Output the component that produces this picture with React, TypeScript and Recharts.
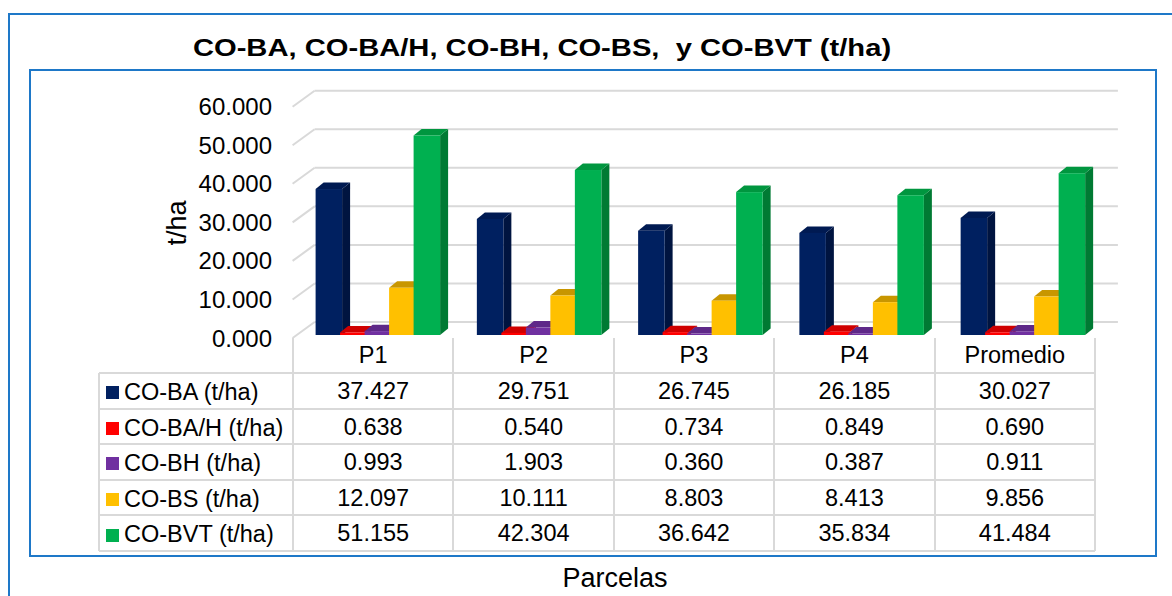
import React from 'react';
import { BarChart, Bar, XAxis, YAxis, CartesianGrid } from 'recharts';

const categories = ['P1', 'P2', 'P3', 'P4', 'Promedio'];
const coBA = [37.427, 29.751, 26.745, 26.185, 30.027];
const coBAH = [0.638, 0.54, 0.734, 0.849, 0.69];
const coBH = [0.993, 1.903, 0.36, 0.387, 0.911];
const coBS = [12.097, 10.111, 8.803, 8.413, 9.856];
const coBVT = [51.155, 42.304, 36.642, 35.834, 41.484];
const yTicks = [0, 10, 20, 30, 40, 50, 60];

const seriesNames = ['CO-BA (t/ha)', 'CO-BA/H (t/ha)', 'CO-BH (t/ha)', 'CO-BS (t/ha)', 'CO-BVT (t/ha)'];
const seriesKeys = ['ba', 'bah', 'bh', 'bs', 'bvt'];
const seriesValues = [coBA, coBAH, coBH, coBS, coBVT];
// front, top, side
const seriesColors = [
  ['#002060', '#001A52', '#001440'],
  ['#FF0000', '#D00000', '#B00000'],
  ['#7030A0', '#5E2888', '#4C1F70'],
  ['#FFC000', '#C89600', '#B08400'],
  ['#00B050', '#00963F', '#007A33'],
];

const data = categories.map((c, i) => {
  const row: Record<string, string | number> = { name: c };
  seriesKeys.forEach((k, s) => {
    row[k] = seriesValues[s][i];
  });
  return row;
});

const W = 1172;
const H = 596;
const PLOT_LEFT = 296.6;
const PLOT_RIGHT = 1102.9;
const PLOT_TOP = 101;
const PLOT_BOTTOM = 335;
const Y_AXIS_W = 60;
const FONT = '"Liberation Sans", Arial, sans-serif';
const BLUE = '#1E78C8';
const GRID = '#D9D9D9';
const TXT = 23.5;

// 3d perspective of the wall compared to the bar plane
const depth = (y: number) => (PLOT_BOTTOM - y) * 0.9885;

const gridLine = (p: any) => {
  const { x1, x2, y1, index } = p;
  const d = depth(y1);
  const fy = PLOT_BOTTOM + 3 - d;
  const by = PLOT_BOTTOM - 13 - d;
  return (
    <g key={`grid-${index}`}>
      <line x1={x1 - 4} y1={fy} x2={x1 + 18} y2={by} stroke={GRID} strokeWidth={2} />
      <line x1={x1 + 18} y1={by} x2={x2 + 15} y2={by} stroke={GRID} strokeWidth={2} />
    </g>
  );
};

const YTick = (p: any) => {
  const { y, payload } = p;
  const cy = PLOT_BOTTOM + 3 - depth(y);
  return (
    <text x={272} y={cy + 8.5} textAnchor="end" fontSize={24} fontFamily={FONT} fill="#000">
      {Number(payload.value).toFixed(3)}
    </text>
  );
};

const makeBar = (s: number) => (p: any) => {
  const { x, y, width, height } = p;
  if (x == null || y == null) return <g />;
  const [front, top, side] = seriesColors[s];
  const w = width + 2;
  const dx = 8;
  const dy = 6.5;
  const h = Math.max(height, 0);
  return (
    <g>
      <polygon points={`${x + w},${y} ${x + w + dx},${y - dy} ${x + w + dx},${y + h - dy} ${x + w},${y + h}`} fill={side} />
      <polygon points={`${x},${y} ${x + dx},${y - dy} ${x + w + dx},${y - dy} ${x + w},${y}`} fill={top} />
      <rect x={x} y={y} width={w} height={h} fill={front} />
    </g>
  );
};

const TABLE_LEFT = 99;
const COL0_RIGHT = 293;
const COL_W = 160.4;
const HEAD_TOP = 338;
const ROW_TOP = 373;
const ROW_H = 35.6;

export default function App() {
  const tableRight = COL0_RIGHT + COL_W * categories.length;
  const tableBottom = ROW_TOP + ROW_H * seriesNames.length;
  return (
    <div
      style={{
        position: 'absolute',
        left: 0,
        top: 0,
        width: W,
        height: H,
        overflow: 'hidden',
        background: '#fff',
        fontFamily: FONT,
        color: '#000',
      }}
    >
      <div style={{ position: 'absolute', left: 8, top: 13, width: 1300, height: 800, border: `2px solid ${BLUE}` }} />
      <div
        style={{
          position: 'absolute',
          left: 29,
          top: 69,
          width: 1128,
          height: 488,
          boxSizing: 'border-box',
          border: `2px solid ${BLUE}`,
        }}
      />
      <div
        style={{
          position: 'absolute',
          left: 542,
          top: 36,
          fontSize: 24,
          lineHeight: '24px',
          fontWeight: 'bold',
          whiteSpace: 'pre',
          transform: 'translateX(-50%) scaleX(1.215)',
        }}
      >
        CO-BA, CO-BA/H, CO-BH, CO-BS,  y CO-BVT (t/ha)
      </div>
      <div
        style={{
          position: 'absolute',
          left: 177,
          top: 223,
          fontSize: 27,
          lineHeight: '27px',
          whiteSpace: 'nowrap',
          transform: 'translate(-50%, -50%) rotate(-90deg)',
        }}
      >
        t/ha
      </div>
      <div
        style={{
          position: 'absolute',
          left: 615,
          top: 565,
          fontSize: 27,
          lineHeight: '27px',
          transform: 'translateX(-50%)',
        }}
      >
        Parcelas
      </div>

      <div style={{ position: 'absolute', left: 0, top: 0 }}>
        <BarChart
          width={W}
          height={H}
          data={data}
          barGap={0}
          margin={{ top: PLOT_TOP, bottom: H - PLOT_BOTTOM, left: PLOT_LEFT - Y_AXIS_W, right: W - PLOT_RIGHT }}
        >
          <CartesianGrid vertical={false} horizontal={gridLine} />
          <XAxis dataKey="name" hide />
          <YAxis
            width={Y_AXIS_W}
            domain={[0, 60]}
            ticks={yTicks}
            interval={0}
            axisLine={false}
            tickLine={false}
            tick={<YTick />}
          />
          {seriesKeys.map((k, s) => (
            <Bar key={k} dataKey={k} barSize={24.5} fill={seriesColors[s][0]} shape={makeBar(s)} isAnimationActive={false} />
          ))}
        </BarChart>
      </div>

      {/* data table */}
      {[0, 1, 2, 3, 4, 5].map((r) => (
        <div
          key={`h${r}`}
          style={{ position: 'absolute', left: TABLE_LEFT, top: ROW_TOP + r * ROW_H - 1, width: tableRight - TABLE_LEFT, height: 2, background: GRID }}
        />
      ))}
      <div style={{ position: 'absolute', left: TABLE_LEFT - 1, top: ROW_TOP, width: 2, height: tableBottom - ROW_TOP, background: GRID }} />
      {[0, 1, 2, 3, 4, 5].map((c) => (
        <div
          key={`v${c}`}
          style={{ position: 'absolute', left: COL0_RIGHT + c * COL_W - 1, top: HEAD_TOP, width: 2, height: tableBottom - HEAD_TOP, background: GRID }}
        />
      ))}
      {categories.map((c, i) => (
        <div
          key={c}
          style={{
            position: 'absolute',
            left: COL0_RIGHT + i * COL_W,
            top: HEAD_TOP,
            width: COL_W,
            height: ROW_TOP - HEAD_TOP + 1,
            display: 'flex',
            alignItems: 'center',
            justifyContent: 'center',
            fontSize: TXT,
            lineHeight: `${TXT}px`,
          }}
        >
          {c}
        </div>
      ))}
      {seriesNames.map((n, s) => (
        <React.Fragment key={n}>
          <div
            style={{
              position: 'absolute',
              left: TABLE_LEFT + 7,
              top: ROW_TOP + s * ROW_H + 2,
              height: ROW_H,
              display: 'flex',
              alignItems: 'center',
              fontSize: TXT,
              lineHeight: `${TXT}px`,
              whiteSpace: 'nowrap',
            }}
          >
            <span style={{ display: 'inline-block', width: 13, height: 13, background: seriesColors[s][0], marginRight: 5 }} />
            {n}
          </div>
          {seriesValues[s].map((v, i) => (
            <div
              key={i}
              style={{
                position: 'absolute',
                left: COL0_RIGHT + i * COL_W,
                top: ROW_TOP + s * ROW_H + 1,
                width: COL_W,
                height: ROW_H,
                display: 'flex',
                alignItems: 'center',
                justifyContent: 'center',
                fontSize: TXT,
                lineHeight: `${TXT}px`,
              }}
            >
              {v.toFixed(3)}
            </div>
          ))}
        </React.Fragment>
      ))}
    </div>
  );
}
